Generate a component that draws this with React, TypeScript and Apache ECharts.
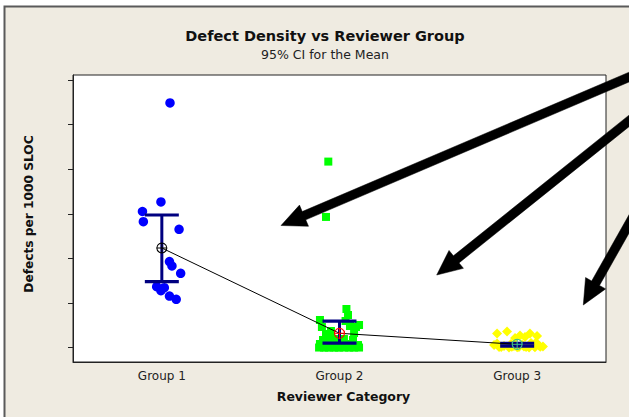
import React, { useEffect, useRef } from 'react';
import * as echarts from 'echarts';

// ---- data ----
const categories = ['Group 1', 'Group 2', 'Group 3'];
const yTickValues = [0, 10, 20, 30, 40, 50, 60];
const groupPositions = [1, 2, 3];

// [jittered x position, defects per 1000 SLOC]
const group1Points = [
  [1.046, 54.83], [0.995, 32.65], [0.891, 30.52], [0.896, 28.23], [1.097, 26.53],
  [1.043, 19.31], [1.057, 18.31], [1.106, 16.67], [0.971, 13.67], [0.995, 12.77],
  [1.014, 13.44], [1.043, 11.58], [1.081, 10.84],
];
const group2Points = [
  [1.937, 41.7], [1.924, 29.3],
  [2.039, 8.67], [2.048, 7.33], [2.034, 5.98], [1.89, 6.21],
  [1.901, 4.64], [2.093, 4.64], [2.11, 5.09], [2.059, 4.86],
  [1.924, 3.07], [2.082, 3.29], [1.952, 3.74],
  [1.907, 1.73], [1.969, 1.95], [2.025, 1.95], [2.076, 1.73], [1.941, 2.4],
  [1.89, 0.83], [1.93, 0.83], [1.963, 0.83], [1.997, 0.83], [2.037, 0.83], [2.07, 0.83], [2.104, 0.6],
  [1.885, 0.04], [1.913, 0.04], [1.941, 0.04], [1.969, 0.04], [1.997, 0.04], [2.025, 0.04],
  [2.054, 0.04], [2.082, 0.04], [2.11, 0.04],
  [1.901, 0.27], [1.986, 0.38], [2.048, 0.27], [2.093, 0.27], [1.952, 0.38],
  [1.924, 0.1], [2.0, 0.15], [2.065, 0.12], [1.98, 0.1],
];
const group3Points = [
  [2.887, 3.18], [2.943, 3.63], [3.016, 2.73], [3.072, 3.18], [3.044, 2.4], [2.988, 2.17], [3.112, 2.62],
  [2.87, 0.6], [2.898, 0.16], [2.926, 0.38], [2.954, 0.04], [2.982, 0.38], [3.01, 0.16], [3.038, 0.27],
  [3.067, 0.04], [3.095, 0.38], [3.123, 0.49], [3.145, 0.27], [2.887, 0.94], [3.078, 1.05], [3.106, 1.17],
  [2.965, 0.83], [3.027, 0.72],
  [2.91, 0.16], [2.97, 0.2], [3.05, 0.16], [3.1, 0.1], [3.13, 0.2], [3.0, 0.1],
];
const means = [22.34, 3.23, 0.76];
const ciLow = [14.79, 1.05, 0.34];
const ciHigh = [29.73, 5.98, 1.0];

const NAVY = '#000080';
const meanColors = ['#000000', '#FF0000', '#3FBF8F'];
const FONT = 'DejaVu Sans';

function arrowPoints(tail: number[], tip: number[], sw: number, hw: number, hl: number) {
  const dx = tip[0] - tail[0];
  const dy = tip[1] - tail[1];
  const len = Math.sqrt(dx * dx + dy * dy);
  const ux = dx / len, uy = dy / len;
  const px = -uy, py = ux;
  const bx = tip[0] - ux * hl, by = tip[1] - uy * hl;
  return [
    [tail[0] + px * sw / 2, tail[1] + py * sw / 2],
    [bx + px * sw / 2, by + py * sw / 2],
    [bx + px * hw / 2, by + py * hw / 2],
    [tip[0], tip[1]],
    [bx - px * hw / 2, by - py * hw / 2],
    [bx - px * sw / 2, by - py * sw / 2],
    [tail[0] - px * sw / 2, tail[1] - py * sw / 2],
  ];
}

export default function App() {
  const ref = useRef<HTMLDivElement>(null);
  useEffect(() => {
    if (!ref.current) return;
    const chart = echarts.init(ref.current, null, { renderer: 'svg' });

    const arrows = [
      { tail: [720, 38.3], tip: [281, 225.5] },
      { tail: [720, 48], tip: [436.7, 275] },
      { tail: [680, 133.6], tip: [583.3, 305] },
    ];

    const option: any = {
      animation: false,
      backgroundColor: '#ffffff',
      grid: {
        left: 73, top: 75, width: 533, height: 287,
        show: true, backgroundColor: '#ffffff', borderColor: '#222', borderWidth: 1,
      },
      xAxis: [
        {
          type: 'category',
          data: categories,
          boundaryGap: true,
          position: 'bottom',
          axisLine: { onZero: false, lineStyle: { color: '#222', width: 1 } },
          axisTick: { alignWithLabel: true, length: 4, lineStyle: { color: '#222' } },
          axisLabel: { color: '#222', fontSize: 12, fontFamily: FONT, margin: 8 },
          splitLine: { show: false },
        },
        {
          type: 'value',
          min: 0.5,
          max: 3.5,
          show: false,
          axisLine: { onZero: false },
          splitLine: { show: false },
        },
      ],
      yAxis: {
        type: 'value',
        min: -3.2,
        max: 61.1,
        axisLine: { show: true, onZero: false, lineStyle: { color: '#222', width: 1 } },
        axisTick: { show: true, length: 5, customValues: yTickValues, lineStyle: { color: '#222' } },
        axisLabel: { show: false, customValues: yTickValues },
        splitLine: { show: false },
      },
      series: [
        {
          type: 'scatter', xAxisIndex: 1, yAxisIndex: 0, data: group1Points,
          symbol: 'circle', symbolSize: 9.5, itemStyle: { color: '#0000FF', opacity: 1 }, z: 2,
        },
        {
          type: 'scatter', xAxisIndex: 1, yAxisIndex: 0, data: group2Points,
          symbol: 'rect', symbolSize: 8, itemStyle: { color: '#00FF00', opacity: 1 }, z: 2,
        },
        {
          type: 'scatter', xAxisIndex: 1, yAxisIndex: 0, data: group3Points,
          symbol: 'diamond', symbolSize: 10, itemStyle: { color: '#FFFF00', opacity: 1 }, z: 2,
        },
        {
          type: 'custom', xAxisIndex: 1, yAxisIndex: 0, z: 3,
          data: groupPositions.map((g, i) => [g, ciLow[i], ciHigh[i]]),
          encode: { x: 0, y: [1, 2] },
          renderItem: (params: any, api: any) => {
            const x = api.value(0);
            const pLo = api.coord([x, api.value(1)]);
            const pHi = api.coord([x, api.value(2)]);
            const hw = 17;
            return {
              type: 'group',
              children: [
                { type: 'line', shape: { x1: pLo[0], y1: pLo[1], x2: pHi[0], y2: pHi[1] }, style: { stroke: NAVY, lineWidth: 3 } },
                { type: 'line', shape: { x1: pLo[0] - hw, y1: pLo[1], x2: pLo[0] + hw, y2: pLo[1] }, style: { stroke: NAVY, lineWidth: 3.2 } },
                { type: 'line', shape: { x1: pHi[0] - hw, y1: pHi[1], x2: pHi[0] + hw, y2: pHi[1] }, style: { stroke: NAVY, lineWidth: 3.2 } },
              ],
            };
          },
        },
        {
          type: 'line', xAxisIndex: 1, yAxisIndex: 0, z: 4,
          data: groupPositions.map((g, i) => [g, means[i]]),
          symbol: 'none',
          lineStyle: { color: '#000', width: 1 },
        },
        {
          type: 'custom', xAxisIndex: 1, yAxisIndex: 0, z: 5,
          data: groupPositions.map((g, i) => [g, means[i]]),
          encode: { x: 0, y: 1 },
          renderItem: (params: any, api: any) => {
            const p = api.coord([api.value(0), api.value(1)]);
            const c = meanColors[params.dataIndex];
            const r = 5;
            return {
              type: 'group',
              children: [
                { type: 'circle', shape: { cx: p[0], cy: p[1], r }, style: { fill: 'transparent', stroke: c, lineWidth: 1.1 } },
                { type: 'line', shape: { x1: p[0] - r, y1: p[1], x2: p[0] + r, y2: p[1] }, style: { stroke: c, lineWidth: 1 } },
                { type: 'line', shape: { x1: p[0], y1: p[1] - r, x2: p[0], y2: p[1] + r }, style: { stroke: c, lineWidth: 1 } },
              ],
            };
          },
        },
      ],
      graphic: [
        {
          type: 'rect', z: -1, silent: true,
          shape: { x: 4.5, y: 6.5, width: 800, height: 600 },
          style: { fill: '#EFEBE1', stroke: '#5a5a5a', lineWidth: 2 },
        },
        {
          type: 'text', z: 10, x: 325, y: 36,
          style: {
            text: 'Defect Density vs Reviewer Group', fill: '#111',
            font: `bold 14.5px "${FONT}"`, fontFamily: FONT, fontSize: 14.5, fontWeight: 'bold',
            align: 'center', verticalAlign: 'middle', textAlign: 'center', textVerticalAlign: 'middle',
          },
        },
        {
          type: 'text', z: 10, x: 325, y: 54,
          style: {
            text: '95% CI for the Mean', fill: '#222',
            font: `12.5px "${FONT}"`, fontFamily: FONT, fontSize: 12.5,
            align: 'center', verticalAlign: 'middle', textAlign: 'center', textVerticalAlign: 'middle',
          },
        },
        {
          type: 'text', z: 10, x: 29, y: 214, rotation: Math.PI / 2,
          style: {
            text: 'Defects per 1000 SLOC', fill: '#111',
            font: `bold 12.2px "${FONT}"`, fontFamily: FONT, fontSize: 12.2, fontWeight: 'bold',
            align: 'center', verticalAlign: 'middle', textAlign: 'center', textVerticalAlign: 'middle',
          },
        },
        {
          type: 'text', z: 10, x: 343.5, y: 396,
          style: {
            text: 'Reviewer Category', fill: '#111',
            font: `bold 12.5px "${FONT}"`, fontFamily: FONT, fontSize: 12.5, fontWeight: 'bold',
            align: 'center', verticalAlign: 'middle', textAlign: 'center', textVerticalAlign: 'middle',
          },
        },
        ...arrows.map((a) => ({
          type: 'polygon', z: 100, silent: true,
          shape: { points: arrowPoints(a.tail, a.tip, 9, 23, 25) },
          style: { fill: '#000', stroke: '#000', lineWidth: 0.5 },
        })),
      ],
    };

    chart.setOption(option);
    return () => chart.dispose();
  }, []);

  return (
    <div
      ref={ref}
      style={{ position: 'absolute', left: 0, top: 0, width: 629, height: 417 }}
    />
  );
}
